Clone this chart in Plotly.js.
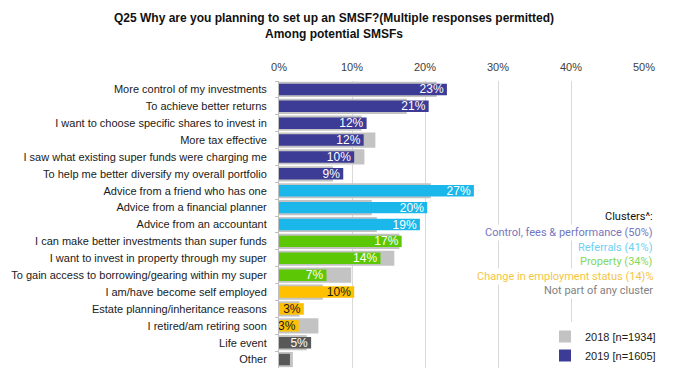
<!DOCTYPE html>
<html>
<head>
<meta charset="utf-8">
<script src="https://cdn.plot.ly/plotly-3.0.1.min.js"></script>
<style>html,body{margin:0;padding:0;background:#fff;}#chart{width:677px;height:382px;}</style>
</head>
<body>
<div id="chart"></div>
<script>
var categories = [
  "More control of my investments",
  "To achieve better returns",
  "I want to choose specific shares to invest in",
  "More tax effective",
  "I saw what existing super funds were charging me",
  "To help me better diversify my overall portfolio",
  "Advice from a friend who has one",
  "Advice from a financial planner",
  "Advice from an accountant",
  "I can make better investments than super funds",
  "I want to invest in property through my super",
  "To gain access to borrowing/gearing within my super",
  "I am/have become self employed",
  "Estate planning/inheritance reasons",
  "I retired/am retiring soon",
  "Life event",
  "Other"
];
var values2018 = [21.6, 17.5, 11.3, 13.2, 11.7, 7.4, 20.8, 12.7, 13.4, 16.5, 15.8, 9.9, 6.0, 2.8, 5.4, 3.8, 1.9];
var values2019 = [23, 20.5, 12, 11.6, 10.3, 8.8, 26.7, 20.3, 19.3, 16.8, 13.9, 6.5, 10.3, 3.4, 2.7, 4.4, 1.5];
var labels2019 = ["23%","21%","12%","12%","10%","9%","27%","20%","19%","17%","14%","7%","10%","3%","3%","5%",""];
var clusters = ["ctrl","ctrl","ctrl","ctrl","ctrl","ctrl","ref","ref","ref","prop","prop","prop","emp","emp","emp","none","none"];
var clusterColors = {ctrl:"#3C3C96", ref:"#1BB7EA", prop:"#5CC805", emp:"#FFC000", none:"#585858"};
var clusterText = {ctrl:"#ffffff", ref:"#ffffff", prop:"#ffffff", emp:"#1a1a1a", none:"#ffffff"};
var tickVals = [0,10,20,30,40,50];
var tickText = ["0%","10%","20%","30%","40%","50%"];
var legendLines = ["Clusters^:", "Control, fees & performance (50%)", "Referrals (41%)", "Property (34%)", "Change in employment status (14)%", "Not part of any cluster"];
var legendColors = ["#111111", "#7575C0", "#6FD0F2", "#83D858", "#F5C542", "#7f7f7f"];

var barColors = clusters.map(function(c){return clusterColors[c];});
var textColors = clusters.map(function(c){return clusterText[c];});

var traces = [
  {type:"bar", orientation:"h", name:"2018 [n=1934]", y:categories, x:values2018,
   marker:{color:"#C3C3C3"}, width:0.9, hoverinfo:"x"},
  {type:"bar", orientation:"h", name:"2019 [n=1605]", y:categories, x:values2019,
   marker:{color:barColors}, width:0.68, text:labels2019, textposition:"inside",
   insidetextanchor:"end", constraintext:"none",
   textfont:{family:"Liberation Sans, Arial, sans-serif", size:12, color:textColors}, hoverinfo:"x"}
];

var annotations = legendLines.map(function(t, i){
  var ypx = (i === 0) ? 216 : 232.7 + (i-1)*14.5;
  return {xref:"paper", yref:"paper", x:(655-279)/365, y:(368-ypx)/287, xanchor:"right", yanchor:"middle",
    text:t, showarrow:false, bgcolor:"#ffffff", borderpad:1,
    font:{family:"Roboto, sans-serif", size:11, color:legendColors[i]}};
});

var layout = {
  width:677, height:382,
  margin:{l:279, r:33, t:81, b:14},
  paper_bgcolor:"#ffffff", plot_bgcolor:"#ffffff",
  barmode:"overlay",
  title:{text:"<b>Q25 Why are you planning to set up an SMSF?(Multiple responses permitted)<br>Among potential SMSFs</b>",
    x:334/677, xref:"container", xanchor:"center", y:1-22/382, yref:"container", yanchor:"middle",
    font:{family:"Liberation Sans, Arial, sans-serif", size:12, color:"#111"}},
  xaxis:{side:"top", range:[0,50], tickvals:tickVals, ticktext:tickText, showgrid:true, gridcolor:"#D9D9D9",
    zeroline:false, showline:false, ticks:"", fixedrange:true, ticklabelstandoff:7,
    tickfont:{family:"Liberation Sans, Arial, sans-serif", size:11, color:"#404040"}},
  yaxis:{type:"category", categoryorder:"array", categoryarray:categories, autorange:"reversed",
    showline:true, linecolor:"#BFBFBF", linewidth:1, ticks:"outside", ticklen:3, tickcolor:"#BFBFBF",
    tickson:"boundaries", ticklabelstandoff:9, showgrid:false,
    tickfont:{family:"Liberation Sans, Arial, sans-serif", size:11, color:"#1a1a1a"}},
  showlegend:true,
  legend:{x:(545-279)/365, y:(368-322)/287, xanchor:"left", yanchor:"top", bgcolor:"#ffffff",
    traceorder:"normal", font:{family:"Liberation Sans, Arial, sans-serif", size:11, color:"#1a1a1a"},
    itemwidth:30, tracegroupgap:0},
  annotations:annotations,
  font:{family:"Liberation Sans, Arial, sans-serif"}
};

Plotly.newPlot("chart", traces, layout, {displayModeBar:false, staticPlot:true});
</script>
</body>
</html>
